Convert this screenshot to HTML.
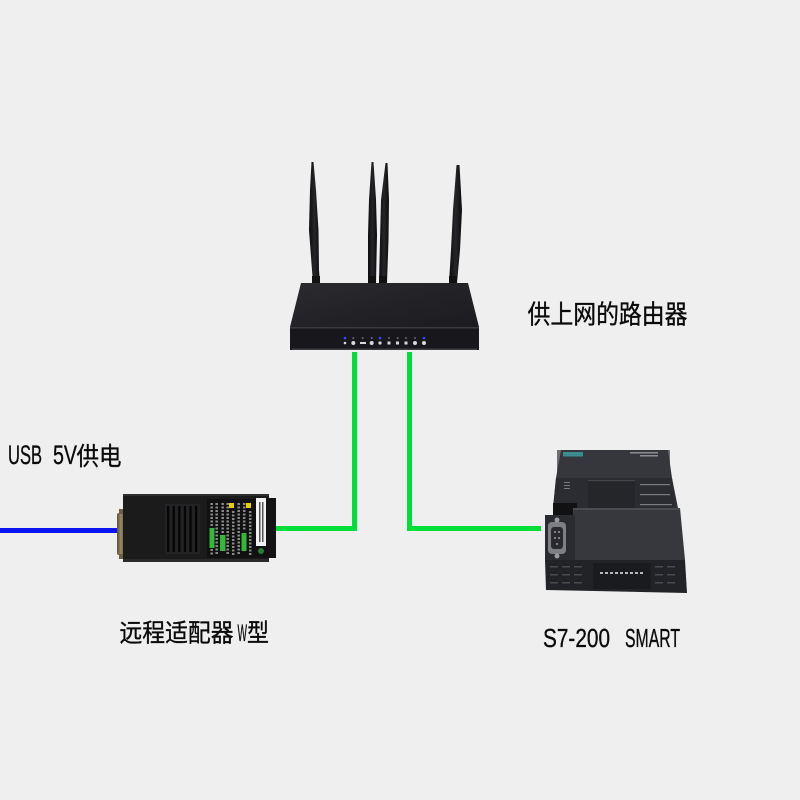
<!DOCTYPE html>
<html><head><meta charset="utf-8">
<style>html,body{margin:0;padding:0;background:#efefef;}svg{display:block}</style>
</head>
<body>
<svg width="800" height="800" viewBox="0 0 800 800" xmlns="http://www.w3.org/2000/svg">
<defs>
  <linearGradient id="rtop" x1="0" y1="0" x2="1" y2="1">
    <stop offset="0" stop-color="#2a2a2f"/>
    <stop offset="0.5" stop-color="#232327"/>
    <stop offset="1" stop-color="#1c1c20"/>
  </linearGradient>
  <linearGradient id="ant" x1="0" y1="0" x2="1" y2="0">
    <stop offset="0" stop-color="#0c0c0e"/>
    <stop offset="0.5" stop-color="#26262a"/>
    <stop offset="1" stop-color="#0c0c0e"/>
  </linearGradient>
  <linearGradient id="db" x1="0" y1="0" x2="1" y2="0">
    <stop offset="0" stop-color="#5d5038"/>
    <stop offset="0.5" stop-color="#9a8a64"/>
    <stop offset="1" stop-color="#5d5038"/>
  </linearGradient>
</defs>
<rect width="800" height="800" fill="#efefef"/>

<!-- ===== Connectors ===== -->
<rect x="0" y="528" width="118" height="5" fill="#0a14f0"/>
<rect x="352" y="352" width="5" height="179" fill="#00de38"/>
<rect x="276" y="526" width="81" height="5" fill="#00de38"/>
<rect x="407" y="352" width="5" height="179" fill="#00de38"/>
<rect x="407" y="526" width="134" height="5" fill="#00de38"/>

<!-- ===== Router ===== -->
<polygon points="311.5,162 313.5,162 316,190 318.5,230 319,270 320,283 313,283 312,270 309,230 310,190" fill="url(#ant)"/>
<polygon points="371.5,162 373.5,162 376,200 377,235 376,283 368,283 368,235 369,200" fill="url(#ant)"/>
<polygon points="385.5,163 387.5,163 389,200 388.5,240 387,283 379,283 380,240 381,200" fill="url(#ant)"/>
<polygon points="456.5,165 459.5,165 462,210 460,250 457,283 449,283 451,250 453,210" fill="url(#ant)"/>
<rect x="312" y="276" width="8" height="7" fill="#111"/>
<rect x="368" y="276" width="8" height="7" fill="#111"/>
<rect x="379" y="276" width="8" height="7" fill="#111"/>
<rect x="449" y="276" width="8" height="7" fill="#111"/>

<polygon points="301,283 468,283 479,327 290,327" fill="url(#rtop)"/>
<rect x="290" y="327" width="189" height="23" fill="#18181c"/>
<rect x="290" y="327" width="189" height="1.5" fill="#3a3a40"/>
<rect x="292" y="348.5" width="185" height="1.5" fill="#3c3c42"/>
<g fill="#6a6a70">
  <circle cx="353.3" cy="338" r="1"/><circle cx="362.7" cy="338" r="1"/><circle cx="371.7" cy="338" r="1"/>
  <circle cx="389" cy="338" r="1"/><circle cx="397.7" cy="338" r="1"/><circle cx="406" cy="338" r="1"/><circle cx="415" cy="338" r="1"/>
</g>
<g fill="#3b46ff">
  <circle cx="345" cy="338" r="1.3"/><circle cx="380" cy="338" r="1.3"/><circle cx="424" cy="338" r="1.3"/>
</g>
<g fill="#d8d8dc">
  <circle cx="345" cy="343" r="1.3"/><circle cx="353.3" cy="343" r="2"/>
  <rect x="360" y="342" width="6" height="2"/>
  <circle cx="371.7" cy="343" r="2"/><circle cx="380" cy="343" r="1.6"/>
  <rect x="387.5" y="341.5" width="3" height="3"/><rect x="396" y="341.5" width="3" height="3"/><rect x="404.5" y="341.5" width="3" height="3"/>
  <circle cx="415" cy="343" r="2"/><circle cx="424" cy="343" r="2"/>
</g>

<!-- ===== Adapter ===== -->
<rect x="117" y="513" width="8" height="42" rx="2" fill="url(#db)"/>
<rect x="119" y="509" width="5" height="5" fill="#6d6046"/>
<rect x="119" y="554" width="5" height="5" fill="#6d6046"/>
<rect x="123" y="494" width="146" height="68" rx="2" fill="#1b1b1c"/>
<rect x="268" y="498" width="8" height="60" fill="#141415"/>
<rect x="123" y="494" width="146" height="2" fill="#2e2e30"/>
<rect x="123" y="559" width="146" height="3" fill="#2a2a2c"/>
<rect x="165" y="504" width="35" height="50" fill="#232325"/>
<g fill="#050505">
  <rect x="167" y="506" width="2.3" height="46"/><rect x="172.6" y="506" width="2.3" height="46"/>
  <rect x="178.2" y="506" width="2.3" height="46"/><rect x="183.8" y="506" width="2.3" height="46"/>
  <rect x="189.4" y="506" width="2.3" height="46"/><rect x="195" y="506" width="2.3" height="46"/>
</g>
<rect x="207" y="499" width="61" height="59" fill="#111112"/>
<g stroke="#8a8a8a" stroke-width="2.5" stroke-dasharray="2 1.5">
  <line x1="211.7" y1="503" x2="211.7" y2="527"/><line x1="216.7" y1="503" x2="216.7" y2="555"/>
  <line x1="222.7" y1="503" x2="222.7" y2="533"/><line x1="227.7" y1="503" x2="227.7" y2="555"/>
  <line x1="233.2" y1="511" x2="233.2" y2="555"/><line x1="238.7" y1="503" x2="238.7" y2="555"/>
  <line x1="244.2" y1="503" x2="244.2" y2="531"/><line x1="250.2" y1="511" x2="250.2" y2="555"/>
  <line x1="211.7" y1="549" x2="211.7" y2="555"/>
</g>
<g fill="#33b83a">
  <rect x="209.5" y="528" width="5" height="20"/>
  <rect x="220" y="535" width="5.5" height="16"/>
  <rect x="241.5" y="533" width="5" height="18"/>
</g>
<g fill="#e8d000">
  <rect x="229" y="503" width="5" height="5"/>
  <rect x="246" y="503" width="5" height="5"/>
</g>
<rect x="256" y="498" width="10" height="48" fill="#f2f2f2"/>
<g fill="#555">
  <rect x="259" y="502" width="1.5" height="40"/><rect x="262" y="502" width="1.5" height="40"/>
</g>
<circle cx="261" cy="551" r="3" fill="#2f7a3a"/>

<!-- ===== PLC ===== -->
<polygon points="561,450 668,450 672,478 678,508 553,508 556,478" fill="#333438"/>
<rect x="557" y="450" width="113" height="28" fill="#38393e" opacity="0.7"/>
<rect x="563" y="452" width="20" height="4.5" fill="#3a8c8e"/>
<g fill="#8c8c90"><rect x="630" y="452" width="28" height="1.5"/><rect x="640" y="455" width="18" height="1.5"/></g>
<polygon points="556,478 672,478 676,508 553,508" fill="#2b2c31"/>
<rect x="588" y="480" width="47" height="28" fill="#25262a"/>
<rect x="588" y="480" width="47" height="1.2" fill="#45464c"/>
<g fill="#7a7b80">
  <rect x="640" y="484" width="30" height="1.2"/><rect x="640" y="494" width="30" height="1.2"/><rect x="640" y="504" width="32" height="1.2"/>
  <rect x="564" y="482" width="6" height="1"/><rect x="564" y="485" width="6" height="1"/><rect x="564" y="488" width="6" height="1"/>
</g>
<rect x="553" y="503" width="24" height="12" fill="#111114"/>
<polygon points="573,508 680,508 685,560 573,560" fill="#37383d"/>
<rect x="573" y="508" width="107" height="2" fill="#4a4b50"/>
<rect x="545" y="515" width="30" height="47" fill="#2a2b2f"/>
<rect x="548" y="522" width="18" height="32" rx="4" fill="#7e7f84"/>
<rect x="551" y="527" width="12" height="22" rx="3" fill="#2a2a2e"/>
<g fill="#9a9aa0">
  <circle cx="557" cy="520" r="2.5"/><circle cx="557" cy="556" r="2.5"/>
  <circle cx="555" cy="532" r="1"/><circle cx="559" cy="532" r="1"/><circle cx="555" cy="538" r="1"/><circle cx="559" cy="538" r="1"/><circle cx="557" cy="544" r="1"/>
</g>
<polygon points="545,560 685,560 687,593 546,590" fill="#222327"/>
<rect x="593" y="563" width="58" height="26" fill="#1a1b1e"/>
<g fill="#b8b8bc">
  <rect x="600" y="572" width="3" height="2"/><rect x="605" y="572" width="3" height="2"/><rect x="610" y="572" width="3" height="2"/>
  <rect x="615" y="572" width="3" height="2"/><rect x="620" y="572" width="3" height="2"/><rect x="625" y="572" width="3" height="2"/>
  <rect x="630" y="572" width="3" height="2"/><rect x="635" y="572" width="3" height="2"/><rect x="640" y="572" width="3" height="2"/>
</g>
<g fill="#4a4b50">
  <rect x="550" y="566" width="8" height="1.5"/><rect x="562" y="566" width="8" height="1.5"/><rect x="574" y="566" width="8" height="1.5"/>
  <rect x="550" y="574" width="8" height="1.5"/><rect x="562" y="574" width="8" height="1.5"/><rect x="574" y="574" width="8" height="1.5"/>
  <rect x="550" y="582" width="8" height="1.5"/><rect x="562" y="582" width="8" height="1.5"/><rect x="574" y="582" width="8" height="1.5"/>
  <rect x="655" y="566" width="8" height="1.5"/><rect x="667" y="566" width="8" height="1.5"/>
  <rect x="655" y="574" width="8" height="1.5"/><rect x="667" y="574" width="8" height="1.5"/>
  <rect x="655" y="582" width="8" height="1.5"/><rect x="667" y="582" width="8" height="1.5"/>
</g>

<!-- ===== Labels ===== -->
<g fill="#0a0a0a" stroke="#0a0a0a" stroke-width="0.35" font-family="'Liberation Sans', 'Noto Sans CJK SC', sans-serif">
  <text x="8" y="464" font-size="27" textLength="34" lengthAdjust="spacingAndGlyphs">USB</text>
  <text x="53" y="464" font-size="27" textLength="24" lengthAdjust="spacingAndGlyphs">5V</text>
  <text x="76.5" y="465" font-size="25" textLength="45" lengthAdjust="spacingAndGlyphs" font-family="'Noto Sans CJK SC', sans-serif">供电</text>

  <text x="527.5" y="323.5" font-size="26" textLength="160" lengthAdjust="spacingAndGlyphs" font-family="'Noto Sans CJK SC', sans-serif">供上网的路由器</text>

  <text x="119.5" y="641.5" font-size="25" textLength="114" lengthAdjust="spacingAndGlyphs" font-family="'Noto Sans CJK SC', sans-serif">远程适配器</text>
  <text x="237.5" y="641" font-size="24" textLength="9.5" lengthAdjust="spacingAndGlyphs">W</text>
  <text x="247" y="641.5" font-size="25" textLength="22" lengthAdjust="spacingAndGlyphs" font-family="'Noto Sans CJK SC', sans-serif">型</text>

  <text x="543" y="647" font-size="26" textLength="67" lengthAdjust="spacingAndGlyphs">S7-200</text>
  <text x="625" y="647" font-size="26" textLength="55" lengthAdjust="spacingAndGlyphs">SMART</text>
</g>
</svg>
</body></html>
